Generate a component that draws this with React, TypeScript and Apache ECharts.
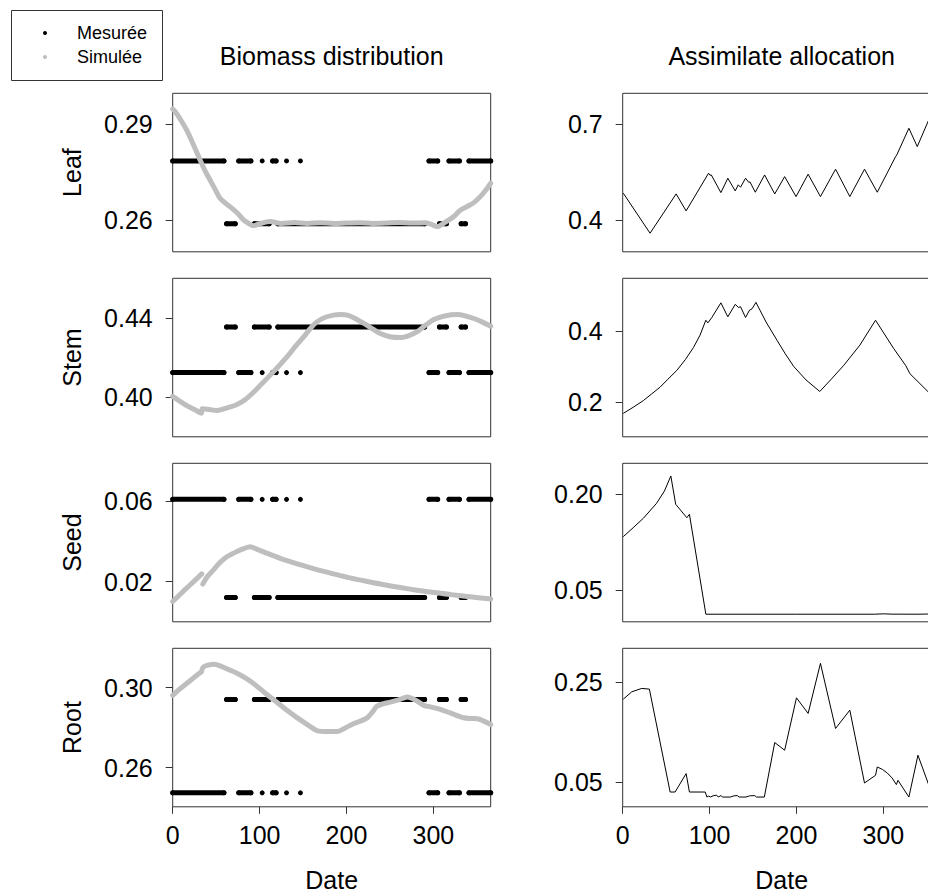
import React, { useEffect, useRef } from "react";
import * as echarts from "echarts";

// ---------- data ----------
const organs = ["Leaf", "Stem", "Seed", "Root"];
const xTickValues = [0, 100, 200, 300];

// measured: constant value over measurement-day spans
const winterSpans = [[0, 59], [76, 90], [103, 103], [115, 119], [131, 131], [147, 147], [295, 305], [318, 330], [341, 366]];
const summerSpans = [[62, 72], [94, 111], [121, 290], [307, 315], [332, 337]];
const measuredWinter = [0.2785, 0.4124, 0.0608, 0.2474];
const measuredSummer = [0.2588, 0.4354, 0.0121, 0.294];

// simulated biomass distribution
const simLeaf = [[0, 0.2948], [3, 0.2939], [9, 0.2915], [16, 0.2882], [24, 0.2835], [31.5, 0.2788], [38, 0.275], [43, 0.2725], [49, 0.2695], [54.5, 0.2668], [61, 0.2652], [68, 0.2637], [75, 0.262], [81.5, 0.26], [88, 0.2588], [93, 0.2582], [100, 0.2588], [112, 0.2595], [125, 0.2589], [140, 0.2592], [155, 0.2589], [170, 0.2591], [185, 0.2589], [200, 0.259], [215, 0.2591], [230, 0.2589], [245, 0.259], [260, 0.2592], [275, 0.259], [290, 0.2591], [297, 0.2587], [304.5, 0.2579], [312, 0.259], [323.6, 0.2611], [331, 0.263], [339, 0.2642], [347, 0.2655], [354, 0.2673], [360, 0.2692], [366, 0.2715]];
const simStem = [[0, 0.4004], [8, 0.398], [16, 0.3958], [25, 0.3938], [33, 0.3919], [34, 0.3941], [42, 0.3938], [51, 0.3933], [62, 0.3945], [74, 0.3963], [84, 0.399], [93, 0.4025], [102, 0.4065], [112, 0.411], [122, 0.4157], [131.5, 0.4203], [141, 0.4255], [150.7, 0.4304], [158, 0.4345], [166, 0.438], [175, 0.4402], [185, 0.4414], [193, 0.4417], [201, 0.4414], [210, 0.4397], [220, 0.4372], [230, 0.4345], [239, 0.4321], [250, 0.4305], [262, 0.4301], [272, 0.4311], [281, 0.4329], [290, 0.436], [300.6, 0.4392], [313, 0.441], [327.6, 0.4417], [337, 0.441], [346.7, 0.4397], [356, 0.438], [366, 0.4358]];
const simSeed = [[0, 0.0101], [8, 0.0134], [16, 0.0167], [25, 0.0203], [33.4, 0.0238], [34, null], [34.6, 0.0187], [40, 0.0225], [47, 0.0258], [53, 0.0288], [60, 0.0316], [67, 0.0334], [74, 0.0349], [81, 0.0362], [89, 0.0373], [98, 0.0358], [108, 0.0341], [127, 0.031], [147, 0.0283], [165, 0.026], [185, 0.0238], [204, 0.0218], [224, 0.02], [243, 0.0184], [262, 0.017], [281, 0.0157], [300.6, 0.0145], [320, 0.0135], [339, 0.0126], [352, 0.0119], [366, 0.0113]];
const simRoot = [[0, 0.2961], [8, 0.2992], [16, 0.302], [24, 0.3048], [31.5, 0.3074], [33, 0.3078], [35, 0.3101], [41, 0.3112], [47, 0.3116], [53, 0.3111], [58.5, 0.3101], [66, 0.3087], [74, 0.3071], [84, 0.3047], [93, 0.302], [102, 0.2988], [112, 0.2953], [122, 0.2919], [131.5, 0.2886], [141, 0.2856], [150.7, 0.2827], [158, 0.2806], [166, 0.2785], [178, 0.278], [189, 0.278], [198, 0.2797], [208, 0.2819], [216, 0.2832], [224, 0.2849], [230, 0.2878], [235, 0.2906], [243, 0.292], [250.6, 0.2927], [260, 0.2938], [270, 0.2953], [279, 0.2938], [289, 0.2911], [298, 0.2902], [308, 0.2891], [320, 0.2872], [335, 0.2849], [343, 0.2845], [350.6, 0.2844], [358, 0.2832], [366, 0.2815]];

// assimilate allocation
const allocLeaf = [[0.7, 0.4837], [31.5, 0.3583], [61.5, 0.4815], [73, 0.4282], [98.8, 0.5464], [100.5, 0.54], [102, 0.541], [113, 0.4856], [121, 0.5307], [129.5, 0.4909], [133, 0.51], [135.6, 0.5025], [141.4, 0.5307], [145, 0.518], [146.5, 0.519], [152.6, 0.4868], [163.3, 0.541], [175, 0.4815], [186.4, 0.5357], [199.5, 0.4731], [213.4, 0.5433], [227.6, 0.4731], [245, 0.559], [261.4, 0.4731], [278.3, 0.559], [293, 0.4868], [314, 0.598], [315.5, 0.604], [329.4, 0.6875], [339, 0.6298], [358, 0.75]];
const allocStem = [[0.7, 0.168], [12, 0.185], [23.8, 0.204], [33, 0.222], [43, 0.2416], [52, 0.264], [62.3, 0.2889], [72, 0.319], [81.4, 0.353], [89, 0.388], [95.7, 0.43], [98, 0.4226], [102.6, 0.4378], [113, 0.479], [121, 0.4396], [129.5, 0.4746], [133.3, 0.466], [135.6, 0.468], [141.4, 0.4378], [146, 0.4585], [148.8, 0.462], [153.4, 0.4802], [165, 0.425], [177.6, 0.3737], [187, 0.336], [196.8, 0.3], [211, 0.262], [226.8, 0.2295], [240, 0.264], [254.4, 0.303], [273, 0.36], [291, 0.43], [312, 0.35], [325.6, 0.303], [330.6, 0.2795], [352, 0.2276], [358, 0.215]];
const allocSeed = [[0.7, 0.1336], [12, 0.1475], [23.8, 0.1624], [39, 0.1859], [48, 0.205], [55.4, 0.2287], [61, 0.1843], [73.8, 0.1633], [76.8, 0.1686], [95.7, 0.0119], [150, 0.0119], [200, 0.0119], [290, 0.0119], [300, 0.0125], [310, 0.012], [340, 0.0119], [352, 0.0122], [360, 0.0122]];
const allocRoot = [[0.7, 0.2164], [10.4, 0.231], [21.9, 0.2379], [30.7, 0.2365], [54.6, 0.0297], [60.3, 0.0297], [73, 0.0667], [76.8, 0.0297], [95, 0.0297], [96.9, 0.0196], [99, 0.0215], [101, 0.0196], [104, 0.022], [108, 0.0235], [110, 0.0196], [113, 0.0225], [115, 0.0196], [124, 0.0196], [128, 0.022], [132, 0.0225], [134, 0.0196], [142, 0.0196], [146, 0.022], [152, 0.0225], [154, 0.0196], [163, 0.0196], [175, 0.1292], [186.4, 0.1136], [200, 0.219], [213.4, 0.1876], [227.6, 0.2883], [245, 0.1574], [261.4, 0.1942], [278.3, 0.0478], [291, 0.0633], [293, 0.08], [299, 0.075], [304.5, 0.0679], [310, 0.058], [315, 0.0446], [316.8, 0.0532], [329.4, 0.0196], [339.8, 0.1036], [352, 0.0452], [358, 0.03]];

const simSeries = [simLeaf, simStem, simSeed, simRoot];
const allocSeries = [allocLeaf, allocStem, allocSeed, allocRoot];

// axis ranges and tick labels
const biomassRanges = [[0.25, 0.2997], [0.38, 0.46], [0, 0.0787], [0.2404, 0.3196]];
const biomassTicks = [["0.26", "0.29"], ["0.40", "0.44"], ["0.02", "0.06"], ["0.26", "0.30"]];
const allocRanges = [[0.3, 0.797], [0.102, 0.548], [0, 0.2486], [0, 0.3185]];
const allocTicks = [["0.4", "0.7"], ["0.2", "0.4"], ["0.05", "0.20"], ["0.05", "0.25"]];

const titles = ["Biomass distribution", "Assimilate allocation"];
const legendItems = ["Mesurée", "Simulée"];
const xAxisTitle = "Date";

// ---------- layout ----------
const FONT = "'Liberation Sans', Arial, Helvetica, sans-serif";
const colLeft = [172.7, 622.7];
const colWidth = 318;
const rowTop = [93.3, 278.3, 463.3, 648.3];
const rowHeight = 158.5;
const BLACK = "#000";
const GREY = "#bebebe";
const FS = 25;

function spansToLine(spans: number[][], v: number) {
  const out: any[] = [];
  spans.forEach((s, i) => {
    if (i > 0) out.push([s[0] - 0.5, null]);
    if (s[0] === s[1]) out.push([s[0], v]);
    else {
      out.push([s[0], v]);
      out.push([s[1], v]);
    }
  });
  return out;
}

export default function App() {
  const ref = useRef<HTMLDivElement>(null);
  useEffect(() => {
    if (!ref.current) return;
    const chart = echarts.init(ref.current, null, { renderer: "svg" });
    const grid: any[] = [];
    const xAxis: any[] = [];
    const yAxis: any[] = [];
    const series: any[] = [];
    for (let c = 0; c < 2; c++) {
      for (let r = 0; r < 4; r++) {
        const idx = c * 4 + r;
        grid.push({
          left: colLeft[c],
          top: rowTop[r],
          width: colWidth,
          height: rowHeight,
          show: true,
          borderColor: "#333",
          borderWidth: 1,
          backgroundColor: "transparent",
          containLabel: false,
          outerBoundsMode: "none",
        });
        const bottom = r === 3;
        xAxis.push({
          type: "value",
          gridIndex: idx,
          min: 0,
          max: 366,
          axisLine: { show: false },
          splitLine: { show: false },
          axisTick: { show: bottom, length: 7, lineStyle: { color: "#333" }, customValues: xTickValues },
          axisLabel: {
            show: bottom,
            customValues: xTickValues,
            fontSize: FS,
            fontFamily: FONT,
            color: BLACK,
            margin: 16,
          },
        });
        const rng = c === 0 ? biomassRanges[r] : allocRanges[r];
        const ticks = c === 0 ? biomassTicks[r] : allocTicks[r];
        const tv = ticks.map((t) => parseFloat(t));
        yAxis.push({
          type: "value",
          gridIndex: idx,
          min: rng[0],
          max: rng[1],
          axisLine: { show: false },
          splitLine: { show: false },
          axisTick: { show: true, length: 7, lineStyle: { color: "#333" }, customValues: tv },
          axisLabel: {
            customValues: tv,
            fontSize: FS,
            fontFamily: FONT,
            color: BLACK,
            margin: 20,
            formatter: (v: number) => {
              let best = ticks[0];
              let d = Infinity;
              ticks.forEach((t) => {
                const dd = Math.abs(parseFloat(t) - v);
                if (dd < d) { d = dd; best = t; }
              });
              return best;
            },
          },
        });
        if (c === 0) {
          const measSets = [
            { spans: winterSpans, v: measuredWinter[r], tag: "winter" },
            { spans: summerSpans, v: measuredSummer[r], tag: "summer" },
          ];
          measSets.forEach((m) => {
            series.push({
              name: legendItems[0] + " " + organs[r] + " " + m.tag,
              type: "line",
              xAxisIndex: idx,
              yAxisIndex: idx,
              data: spansToLine(m.spans, m.v),
              symbol: "circle",
              symbolSize: 5,
              showSymbol: true,
              showAllSymbol: true,
              itemStyle: { color: BLACK },
              lineStyle: { color: BLACK, width: 5, cap: "round" },
              connectNulls: false,
              clip: true,
              silent: true,
              z: 2,
            });
          });
          series.push({
            name: legendItems[1] + " " + organs[r],
            type: "line",
            xAxisIndex: idx,
            yAxisIndex: idx,
            data: simSeries[r],
            showSymbol: false,
            smooth: 0.3,
            lineStyle: { color: GREY, width: 5, cap: "round", join: "round" },
            connectNulls: false,
            clip: true,
            silent: true,
            z: 3,
          });
        } else {
          series.push({
            name: "Allocation " + organs[r],
            type: "line",
            xAxisIndex: idx,
            yAxisIndex: idx,
            data: allocSeries[r],
            showSymbol: false,
            lineStyle: { color: BLACK, width: 1 },
            clip: true,
            silent: true,
          });
        }
      }
    }

    const graphic: any[] = [];
    titles.forEach((t, c) => {
      graphic.push({
        type: "text",
        x: colLeft[c] + colWidth / 2,
        y: 56,
        style: { text: t, fontSize: FS, fontFamily: FONT, fill: BLACK, align: "center", verticalAlign: "middle" },
      });
      graphic.push({
        type: "text",
        x: colLeft[c] + colWidth / 2,
        y: 880,
        style: { text: xAxisTitle, fontSize: FS, fontFamily: FONT, fill: BLACK, align: "center", verticalAlign: "middle" },
      });
    });
    organs.forEach((o, r) => {
      graphic.push({
        type: "text",
        x: 72,
        y: rowTop[r] + rowHeight / 2,
        rotation: Math.PI / 2,
        style: { text: o, fontSize: FS, fontFamily: FONT, fill: BLACK, align: "center", verticalAlign: "middle" },
      });
    });
    graphic.push({
      type: "rect",
      shape: { x: 11.5, y: 10.5, width: 151, height: 70 },
      style: { fill: "#fff", stroke: "#333", lineWidth: 1 },
    });
    const legendColors = [BLACK, GREY];
    legendItems.forEach((t, i) => {
      graphic.push({
        type: "circle",
        shape: { cx: 45, cy: 33 + i * 24, r: 2 },
        style: { fill: legendColors[i] },
      });
      graphic.push({
        type: "text",
        x: 77,
        y: 33 + i * 24,
        style: { text: t, fontSize: 18, fontFamily: FONT, fill: BLACK, align: "left", verticalAlign: "middle" },
      });
    });

    chart.setOption({
      animation: false,
      backgroundColor: "#fff",
      grid,
      xAxis,
      yAxis,
      series,
      graphic,
    });
    return () => chart.dispose();
  }, []);
  return (
    <div
      ref={ref}
      style={{ position: "absolute", left: 0, top: 0, width: 928, height: 893 }}
    />
  );
}
